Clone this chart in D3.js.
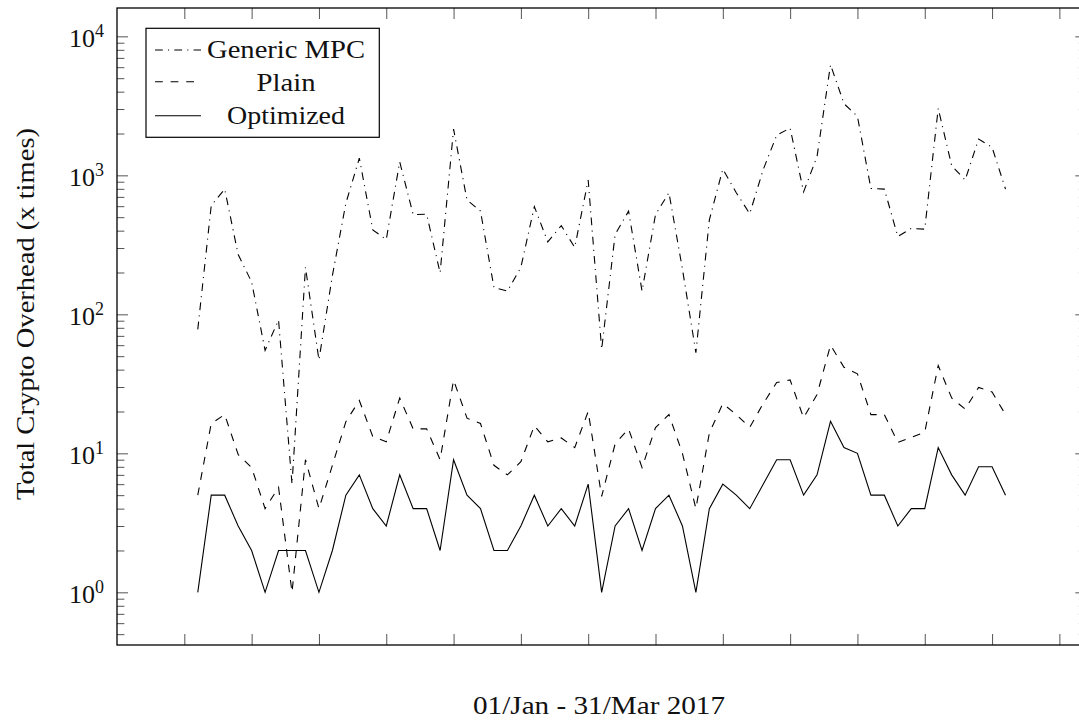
<!DOCTYPE html>
<html>
<head>
<meta charset="utf-8">
<script src="https://cdn.jsdelivr.net/npm/d3@7"></script>
<style>
  html, body { margin: 0; padding: 0; background: #fff; }
  svg { display: block; }
  text { font-family: "Liberation Serif", "Times New Roman", serif; fill: #111; }
</style>
</head>
<body>
<svg id="chart" width="1079" height="722"></svg>
<script>
// ---- data (x = 1..61, days of the observed period) ----
const days = d3.range(1, 62);
const genericMPC = [78, 607, 796, 269, 171, 55, 91, 6, 218, 47,
  190, 630, 1330, 405, 345, 1250, 522, 525, 199, 2150,
  664, 553, 156, 147, 218, 596, 332, 435, 303, 925,
  56, 375, 553, 147, 522, 750, 212, 53, 478, 1110,
  750, 530, 1100, 1940, 2190, 760, 1368, 6250, 3280, 2655,
  805, 796, 363, 415, 410, 3030, 1175, 925, 1825, 1590, 796];
const plain = [5, 16.4, 19, 9.8, 7.9, 4, 5.7, 1, 9, 4,
  8.2, 16.9, 24, 13.2, 12.1, 25, 15, 15, 9, 33.7,
  17.9, 16.4, 8.2, 7, 8.7, 15.8, 12.1, 12.9, 11, 20,
  4.9, 11.7, 15, 7.9, 15.3, 19, 10, 4, 14, 22.8,
  19, 15.4, 22.8, 32.3, 33.7, 18, 26.5, 60, 41.6, 37.3,
  19, 19, 12, 13, 14.2, 42.8, 25, 20.8, 29.8, 27.6, 19];
const optimized = [1, 5, 5, 3, 2, 1, 2, 2, 2, 1,
  2, 5, 7, 4, 3, 7, 4, 4, 2, 9,
  5, 4, 2, 2, 3, 5, 3, 4, 3, 6,
  1, 3, 4, 2, 4, 5, 3, 1, 4, 6,
  5, 4, 6, 9, 9, 5, 7, 17, 11, 10,
  5, 5, 3, 4, 4, 11, 7, 5, 8, 8, 5];
const seriesNames = ["Generic MPC", "Plain", "Optimized"];
const xTicks = d3.range(0, 70, 5);
const yMajorTicks = [1, 10, 100, 1000, 10000];
const yTickExponents = ["0", "1", "2", "3", "4"];
const xLabel = "01/Jan - 31/Mar 2017";
const yLabel = "Total Crypto Overhead (x times)";

// ---- layout ----
const svg = d3.select("#chart");
const L = 117, R = 1086.3, T = 8, B = 645;
const x = d3.scaleLinear().domain([-5, 67]).range([L, R]);
const y = d3.scaleLog().domain([Math.pow(10, -0.379), Math.pow(10, 4.204)]).range([B, T]);

const MAJ = 11, MIN = 7.4;
const tickColor = "#555";

// minor log ticks
const yMinor = [];
for (let e = -1; e <= 4; e++) for (let m = 2; m <= 9; m++) {
  const v = m * Math.pow(10, e);
  if (v >= y.domain()[0] && v <= y.domain()[1]) yMinor.push(v);
}

function styleAxis(g) {
  g.select(".domain").remove();
  g.selectAll(".tick line").attr("stroke", tickColor).attr("stroke-width", 1);
}

// x ticks bottom & top (inward)
svg.append("g").attr("transform", `translate(0,${B})`)
  .call(d3.axisBottom(x).tickValues(xTicks).tickSizeInner(-MAJ).tickSizeOuter(0).tickFormat(""))
  .call(styleAxis);
svg.append("g").attr("transform", `translate(0,${T})`)
  .call(d3.axisTop(x).tickValues(xTicks).tickSizeInner(-MAJ).tickSizeOuter(0).tickFormat(""))
  .call(styleAxis);

// y ticks left & right (major + minor, inward)
svg.append("g").attr("transform", `translate(${L},0)`)
  .call(d3.axisLeft(y).tickValues(yMajorTicks).tickSizeInner(-MAJ).tickSizeOuter(0).tickFormat(""))
  .call(styleAxis);
svg.append("g").attr("transform", `translate(${L},0)`)
  .call(d3.axisLeft(y).tickValues(yMinor).tickSizeInner(-MIN).tickSizeOuter(0).tickFormat(""))
  .call(styleAxis);
svg.append("g").attr("transform", `translate(${R},0)`)
  .call(d3.axisRight(y).tickValues(yMajorTicks).tickSizeInner(-MAJ).tickSizeOuter(0).tickFormat(""))
  .call(styleAxis);
svg.append("g").attr("transform", `translate(${R},0)`)
  .call(d3.axisRight(y).tickValues(yMinor).tickSizeInner(-MIN).tickSizeOuter(0).tickFormat(""))
  .call(styleAxis);

// y tick labels 10^k
const lab = svg.append("g");
yMajorTicks.forEach((v, i) => {
  const t = lab.append("text")
    .attr("x", 104).attr("y", y(v) + 10.5)
    .attr("text-anchor", "end")
    .style("font-size", "26px");
  t.append("tspan").text("10");
  t.append("tspan").attr("dy", -10).style("font-size", "18px").text(yTickExponents[i]);
});

// frame
svg.append("rect").attr("x", L).attr("y", T).attr("width", R - L).attr("height", B - T)
  .attr("fill", "none").attr("stroke", "#000").attr("stroke-width", 1.3);

// lines
const styles = [
  { data: genericMPC, dash: "7.8 5.2 1.1 5.2" },
  { data: plain, dash: "7.8 7.8" },
  { data: optimized, dash: null }
];
const line = d3.line().x(d => x(d[0])).y(d => y(d[1]));
styles.forEach(s => {
  const p = svg.append("path")
    .datum(days.map((d, i) => [d, s.data[i]]))
    .attr("d", line)
    .attr("fill", "none").attr("stroke", "#000").attr("stroke-width", 1.1)
    .attr("stroke-linejoin", "miter");
  if (s.dash) p.attr("stroke-dasharray", s.dash);
});

// legend
const lg = svg.append("g");
lg.append("rect").attr("x", 146).attr("y", 28.3).attr("width", 233.3).attr("height", 109)
  .attr("fill", "#fff").attr("stroke", "#000").attr("stroke-width", 1.2);
const legendRows = [
  { y: 50, base: 57.5, len: 158 },
  { y: 81.7, base: 90.7, len: 59 },
  { y: 115.7, base: 123.5, len: 118 }
];
seriesNames.forEach((name, i) => {
  const r = legendRows[i];
  const l = lg.append("line").attr("x1", 155).attr("x2", 201).attr("y1", r.y).attr("y2", r.y)
    .attr("stroke", "#000").attr("stroke-width", 1.1);
  if (styles[i].dash) l.attr("stroke-dasharray", styles[i].dash);
  lg.append("text").attr("x", 286).attr("y", r.base).attr("text-anchor", "middle")
    .style("font-size", "26px")
    .attr("textLength", r.len).attr("lengthAdjust", "spacingAndGlyphs")
    .text(name);
});

// axis labels
svg.append("text").attr("x", 599).attr("y", 714).attr("text-anchor", "middle")
  .style("font-size", "26px")
  .attr("textLength", 252).attr("lengthAdjust", "spacingAndGlyphs")
  .text(xLabel);
svg.append("text").attr("transform", "translate(34,314) rotate(-90)").attr("text-anchor", "middle")
  .style("font-size", "26px")
  .attr("textLength", 372).attr("lengthAdjust", "spacingAndGlyphs")
  .text(yLabel);
</script>
</body>
</html>
